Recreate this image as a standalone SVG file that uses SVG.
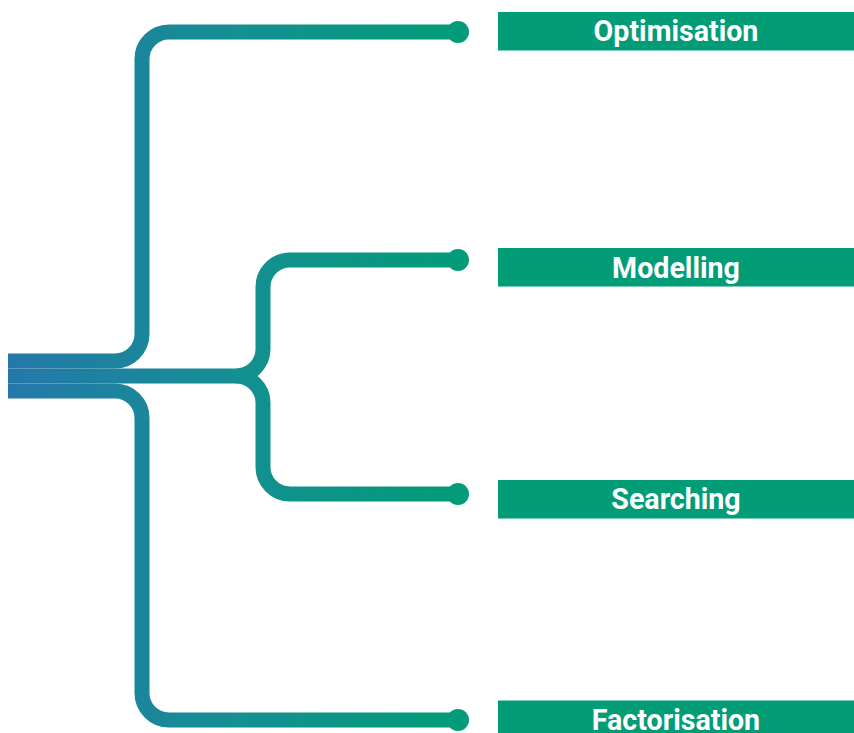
<svg xmlns="http://www.w3.org/2000/svg" width="854" height="733" viewBox="0 0 854 733">
  <defs>
    <linearGradient id="g" gradientUnits="userSpaceOnUse" x1="8" y1="0" x2="460" y2="0">
      <stop offset="0" stop-color="#2578aa"/>
      <stop offset="0.5" stop-color="#148f92"/>
      <stop offset="1" stop-color="#029c77"/>
    </linearGradient>
    <style>
      .line{fill:none;stroke:url(#g);stroke-width:15;stroke-linecap:butt}
      .dot{fill:#039b78}
      .box{fill:#029c77}
      .lbl{font-family:Roboto,"Liberation Sans",sans-serif;font-weight:bold;font-size:28.6px;fill:#ffffff;text-anchor:middle}
    </style>
  </defs>
  <rect width="854" height="733" fill="#ffffff"/>
  <g id="connectors">
    <path class="line" d="M8,361 H115 A27,27 0 0 0 142,334 V59 A27,27 0 0 1 169,32 H458"/>
    <path class="line" d="M8,376 H236 A27,27 0 0 0 263,349 V287 A27,27 0 0 1 290,260 H458"/>
    <path class="line" d="M236,376 A27,27 0 0 1 263,403 V467 A27,27 0 0 0 290,494 H458"/>
    <path class="line" d="M8,391 H115 A27,27 0 0 1 142,418 V693 A27,27 0 0 0 169,720 H458"/>
    <circle class="dot" cx="458" cy="32" r="11"/>
    <circle class="dot" cx="458" cy="260" r="11"/>
    <circle class="dot" cx="458" cy="494" r="11"/>
    <circle class="dot" cx="458" cy="720" r="11"/>
  </g>
  <g id="optimisation">
    <rect class="box" x="498" y="12" width="356" height="38.5"/>
    <text class="lbl" x="676" y="40.5">Optimisation</text>
  </g>
  <g id="modelling">
    <rect class="box" x="498" y="248" width="356" height="38.5"/>
    <text class="lbl" x="676" y="277.5">Modelling</text>
  </g>
  <g id="searching">
    <rect class="box" x="498" y="480" width="356" height="38.5"/>
    <text class="lbl" x="676" y="509">Searching</text>
  </g>
  <g id="factorisation">
    <rect class="box" x="498" y="700.5" width="356" height="38.5"/>
    <text class="lbl" x="676" y="729.5">Factorisation</text>
  </g>
</svg>
